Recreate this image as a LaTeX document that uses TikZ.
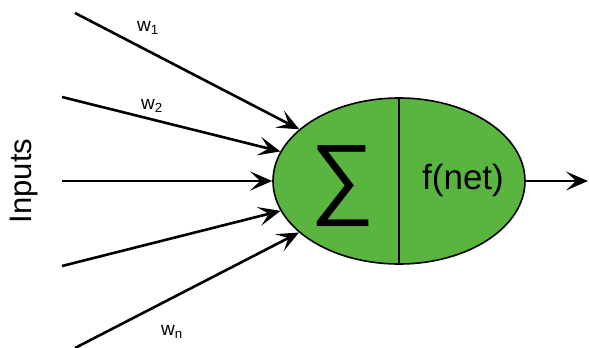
\documentclass[tikz,border=0pt]{standalone}
\usepackage{fontspec}
\setmainfont{Liberation Sans}
\usepackage{tikz}
\usetikzlibrary{positioning,arrows.meta,shapes.geometric}
\definecolor{nrngreen}{RGB}{90,180,64}
\tikzstyle{nrnbodystyle}=[shape=ellipse,draw,fill=nrngreen,line width=1.6pt,minimum width=252pt,minimum height=166pt,inner sep=0pt]
\tikzstyle{nrnarrowstyle}=[draw,line width=2.6pt,-{Stealth[length=22pt,width=19pt,inset=10pt]}]
\tikzstyle{nrnweightstyle}=[font=\fontsize{19}{19}\selectfont]
\newcommand{\nrninput}[3]{ \coordinate (#1) at (#2,#3); \draw[style=nrnarrowstyle] (#1) -- (body); }
\newcommand{\nrnweight}[4]{ \node [style=nrnweightstyle] (#1) at (#2,#3) {w\textsubscript{#4}}; }

\begin{document}
\begin{tikzpicture}[x=1pt,y=-1pt]
\useasboundingbox (0,0) rectangle (589,348);

\node [style=nrnbodystyle] (body) at (399,181) {}; %
\draw [line width=1.6pt] (body.north) -- (body.south); %
\node (sigma) at (343,186) {\fontsize{90}{90}\selectfont ∑}; %
\node (fnet) at (463,180) {\fontsize{35}{35}\selectfont f(net)}; %

\nrninput{in1}{75}{13} %
\nrninput{in2}{62}{97} %
\nrninput{in3}{62}{181} %
\nrninput{in4}{62}{266} %
\nrninput{in5}{75}{348} %

\nrnweight{wone}{148}{28}{1} %
\nrnweight{wtwo}{152}{106}{2} %
\nrnweight{wlast}{172}{332}{n} %

\node [rotate=90,font=\fontsize{31}{31}\selectfont] (inputs) at (24,181) {Inputs}; %

\coordinate (out) at (588,181); %
\draw [style=nrnarrowstyle] (body.east) -- (out); %
\end{tikzpicture}
\end{document}
